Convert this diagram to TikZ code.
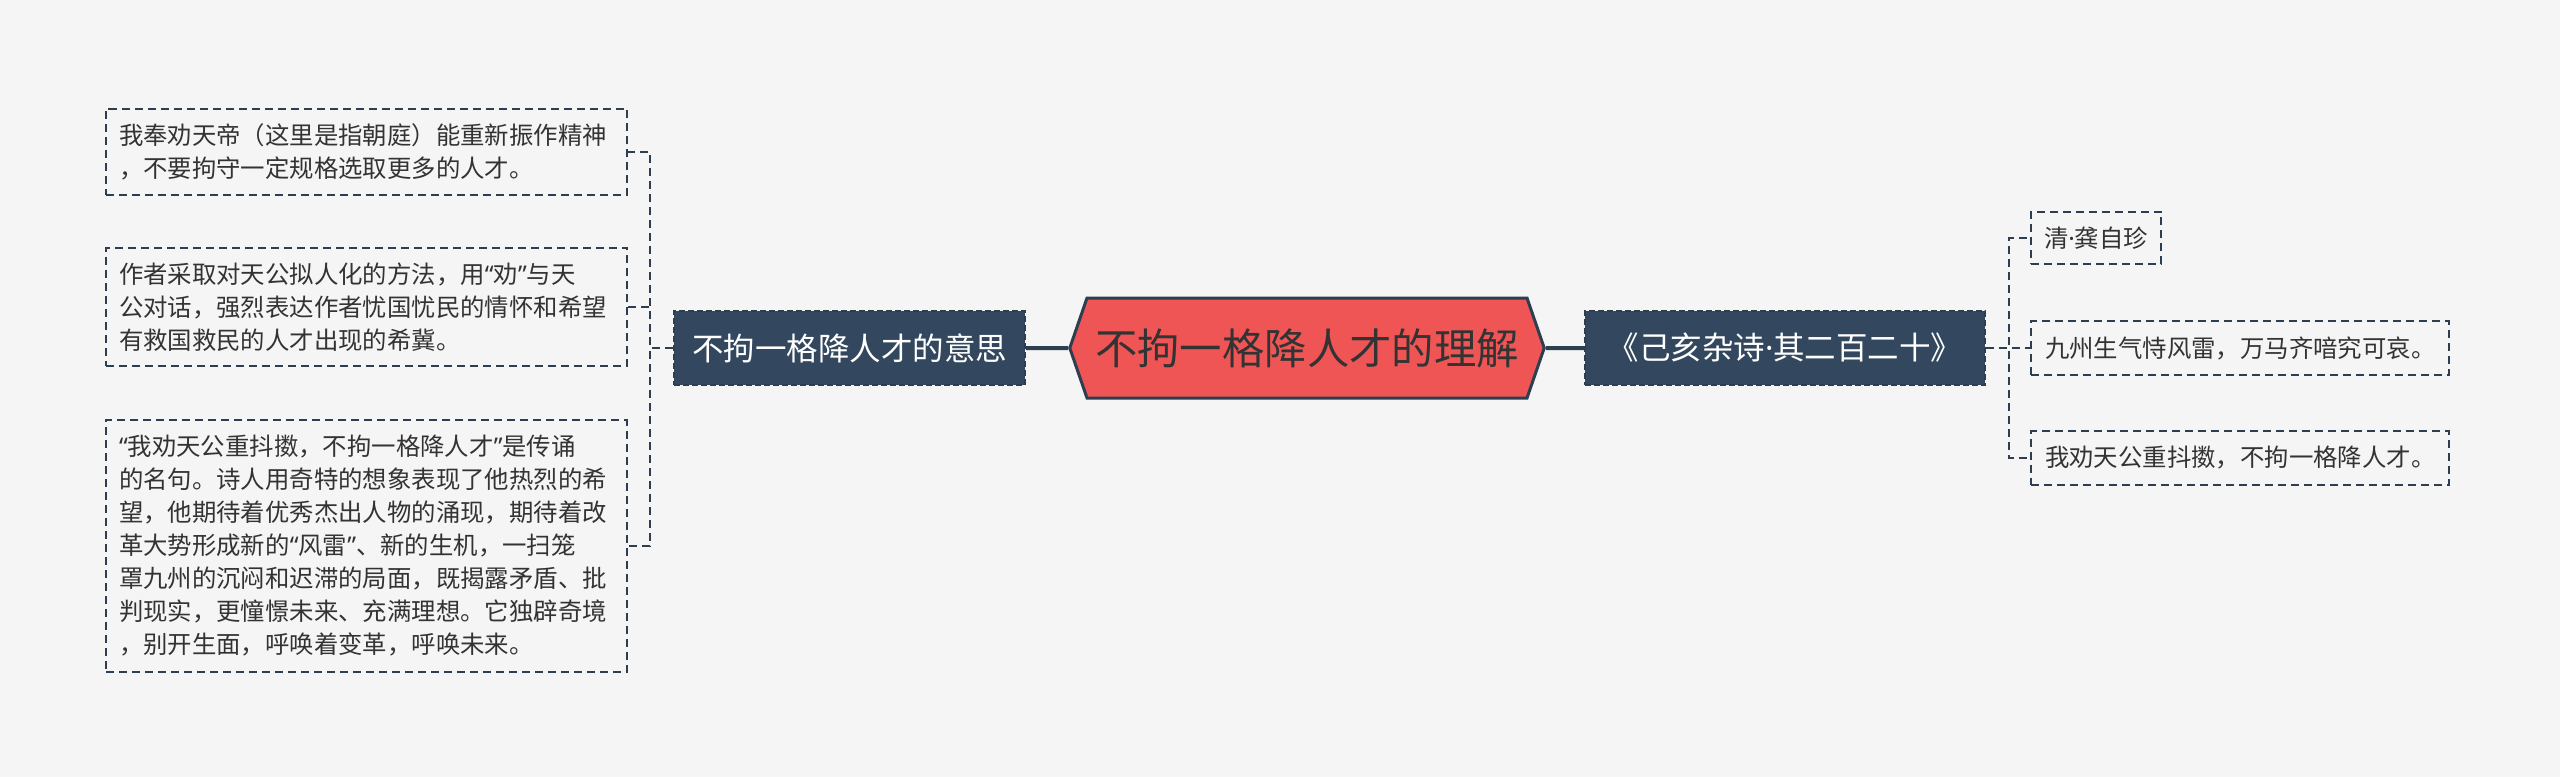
\documentclass[tikz,border=0pt]{standalone}
\usepackage{fontspec}
\setmainfont{Noto Sans CJK SC}
\newfontfamily\westfont{Noto Sans}
\newcommand{\qopen}{{\westfont “}}
\newcommand{\qclose}{{\westfont ”}}
\newcommand{\mdot}{{\westfont ·}}
\usetikzlibrary{shapes.symbols}
\definecolor{bgcol}{HTML}{F5F5F5}
\definecolor{navy}{HTML}{33485E}
\definecolor{edge}{HTML}{2C3E50}
\definecolor{rootred}{HTML}{F05556}
\definecolor{inkcol}{HTML}{333333}
\tikzset{
  leaf/.style={draw=edge,line width=1pt,dash pattern=on 4pt off 2.5pt,inner xsep=6.5pt,inner ysep=7.5pt,
    font=\fontsize{12.2}{16.5}\selectfont,text=inkcol,align=left},
  sub/.style={fill=navy,draw=edge,line width=0.8pt,dash pattern=on 3pt off 1.5pt,text=white,
    font=\fontsize{15.75}{18}\selectfont,inner xsep=9pt,minimum height=37pt},
  link/.style={draw=edge,line width=1pt,dash pattern=on 4pt off 2.5pt},
  trunk/.style={draw=edge,line width=2pt}
}
\begin{document}
\begin{tikzpicture}[x=0.5pt,y=-0.5pt]
\fill[bgcol] (0,0) rectangle (2560,777);
\useasboundingbox (0,0) rectangle (2560,777);
% centre
\node[signal,signal to=west and east,signal pointer angle=142,fill=rootred,draw=edge,line width=1.5pt,
  minimum width=234pt,minimum height=50pt,inner xsep=4pt,text=inkcol,font=\fontsize{21.2}{24}\selectfont]
  (root) at (1307,348) {不拘一格降人才的理解};
% left branch
\node[sub] (mean) at (849.5,348) {不拘一格降人才的意思};
\node[leaf,text width=247.5pt] (wish) at (366.5,152) {我奉劝天帝（这里是指朝庭）能重新振作精神\\，不要拘守一定规格选取更多的人才。};
\node[leaf,text width=247.5pt] (method) at (366.5,307) {作者采取对天公拟人化的方法，用\qopen 劝\qclose 与天\\公对话，强烈表达作者忧国忧民的情怀和希望\\有救国救民的人才出现的希冀。};
\node[leaf,text width=247.5pt] (famous) at (366.5,546) {\qopen 我劝天公重抖擞，不拘一格降人才\qclose 是传诵\\的名句。诗人用奇特的想象表现了他热烈的希\\望，他期待着优秀杰出人物的涌现，期待着改\\革大势形成新的\qopen 风雷\qclose 、新的生机，一扫笼\\罩九州的沉闷和迟滞的局面，既揭露矛盾、批\\判现实，更憧憬未来、充满理想。它独辟奇境\\，别开生面，呼唤着变革，呼唤未来。};
% right branch
\node[sub,minimum width=200pt] (poem) at (1785,348) {《己亥杂诗\mdot 其二百二十》};
\node[leaf,anchor=west] (author) at (2030,238) {清\mdot 龚自珍};
\node[leaf,anchor=west,inner xsep=7pt] (line1) at (2030,348) {九州生气恃风雷，万马齐喑究可哀。};
\node[leaf,anchor=west,inner xsep=7pt] (line2) at (2030,458) {我劝天公重抖擞，不拘一格降人才。};
% connectors
\draw[trunk] (mean) -- (root);
\draw[trunk] (root) -- (poem);
\foreach \n in {wish,method,famous}
  \draw[link] (mean.west) -- ++(-23,0) |- (\n.east);
\foreach \n in {author,line1,line2}
  \draw[link] (poem.east) -- ++(23,0) |- (\n.west);
\end{tikzpicture}
\end{document}
